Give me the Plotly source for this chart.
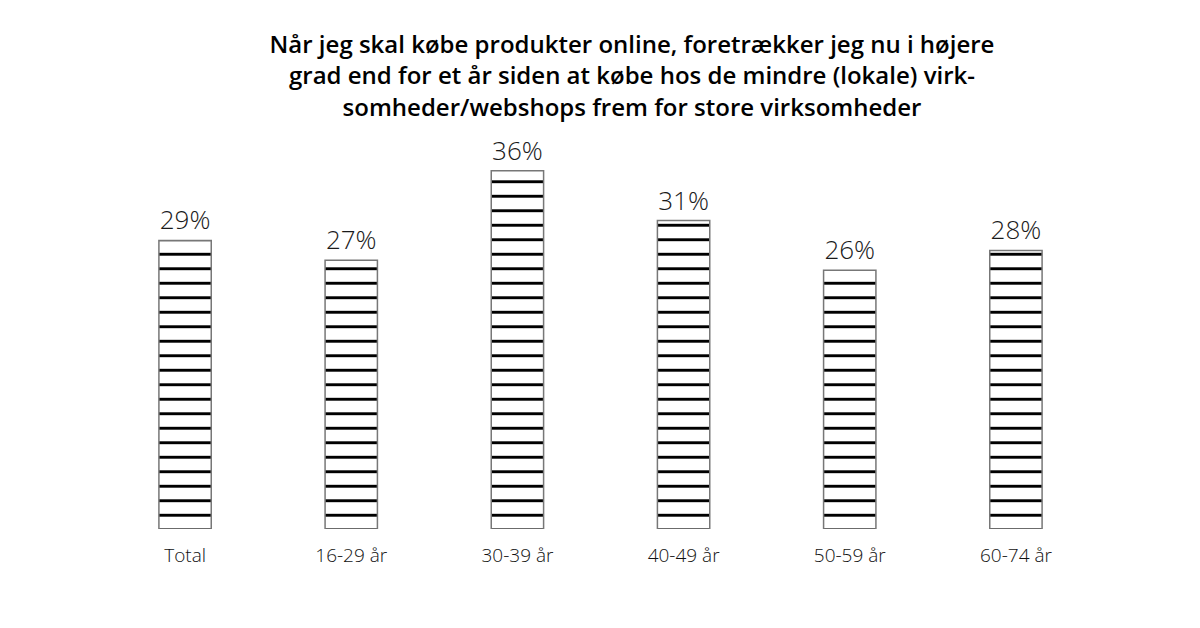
import plotly.graph_objects as go

categories = ["Total", "16-29 år", "30-39 år", "40-49 år", "50-59 år", "60-74 år"]
values = [29, 27, 36, 31, 26, 28]
labels = ["29%", "27%", "36%", "31%", "26%", "28%"]
title_text = ("Når jeg skal købe produkter online, foretrækker jeg nu i højere<br>"
              "grad end for et år siden at købe hos de mindre (lokale) virk-<br>"
              "somheder/webshops frem for store virksomheder")

fig = go.Figure()
fig.add_trace(go.Bar(
    x=categories,
    y=values,
    text=labels,
    textposition="outside",
    textfont=dict(family="Open Sans", size=26, color="#1a1a1a", weight=300),
    cliponaxis=False,
    width=0.315,
    marker=dict(
        color="white",
        line=dict(color="#777777", width=1.5),
        pattern=dict(shape="-", fgcolor="#000000", bgcolor="white", size=14.5,
                     solidity=0.2, fgopacity=1),
    ),
))

fig.update_layout(
    width=1200, height=628,
    paper_bgcolor="white", plot_bgcolor="white",
    margin=dict(l=94, r=109, t=123, b=107),
    showlegend=False,
    title=dict(text=title_text, x=0.52, xanchor="center", y=0.928, yanchor="top",
               font=dict(family="Open Sans", size=24, color="black", weight=600)),
    xaxis=dict(showgrid=False, showline=False, zeroline=False, ticks="",
               ticklabelstandoff=13,
               tickfont=dict(family="Open Sans", size=19, color="#111111", weight=300)),
    yaxis=dict(range=[0, 40], visible=False),
)

fig.write_html("out.html")
